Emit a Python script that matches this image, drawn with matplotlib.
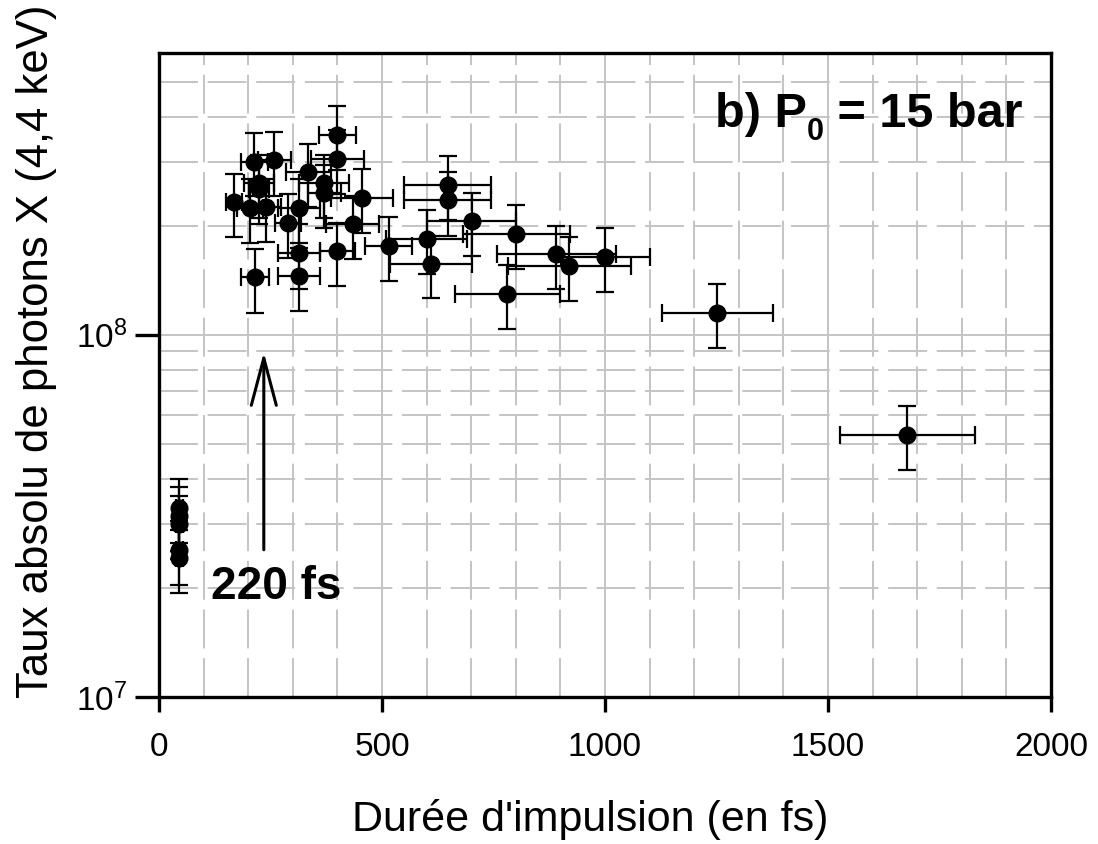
import matplotlib
matplotlib.use("Agg")
import matplotlib.pyplot as plt
from matplotlib.ticker import MultipleLocator, LogLocator

plt.rcParams['font.family'] = ['Liberation Sans', 'DejaVu Sans']
plt.rcParams['mathtext.fontset'] = 'custom'
plt.rcParams['mathtext.rm'] = 'Liberation Sans'
plt.rcParams['mathtext.bf'] = 'Liberation Sans:bold'

# pulse duration (fs) and absolute X-ray photon yield, with error bars
duree = [45, 45, 45, 45, 45,
         168, 204, 214, 258, 224, 224, 239, 215, 290, 314,
         335, 314, 314, 370, 370, 400, 400, 400, 434, 455,
         515, 600, 610, 647, 647, 701, 801, 781, 891, 920,
         1001, 1252, 1678]
taux = [3.33e7, 3.16e7, 3.00e7, 2.55e7, 2.42e7,
        2.32e8, 2.24e8, 3.01e8, 3.03e8, 2.62e8, 2.52e8, 2.25e8, 1.44e8, 2.04e8, 2.24e8,
        2.81e8, 1.68e8, 1.45e8, 2.62e8, 2.46e8, 3.57e8, 3.06e8, 1.70e8, 2.02e8, 2.39e8,
        1.76e8, 1.84e8, 1.57e8, 2.60e8, 2.35e8, 2.06e8, 1.90e8, 1.30e8, 1.67e8, 1.55e8,
        1.64e8, 1.15e8, 5.29e7]
duree_err = [8, 8, 8, 8, 8,
             17, 30, 30, 37, 33, 22, 35, 32, 29, 47,
             50, 47, 47, 55, 37, 41, 60, 40, 60, 69,
             53, 90, 91, 97, 97, 100, 120, 117, 134, 138,
             100, 125, 152]
taux_err = [6.7e6, 6.3e6, 6.0e6, 5.1e6, 4.8e6,
            4.6e7, 4.5e7, 6.0e7, 6.1e7, 5.2e7, 5.0e7, 4.5e7, 2.9e7, 4.1e7, 4.5e7,
            5.6e7, 3.4e7, 2.9e7, 5.2e7, 4.9e7, 7.1e7, 6.1e7, 3.4e7, 4.0e7, 4.8e7,
            3.5e7, 3.7e7, 3.1e7, 5.2e7, 4.7e7, 4.1e7, 3.8e7, 2.6e7, 3.3e7, 3.1e7,
            3.3e7, 2.3e7, 1.06e7]

W, H = 1098, 844
fig = plt.figure(figsize=(W / 100, H / 100), dpi=100)
ax = fig.add_axes([159 / W, 1 - 697 / H, 892 / W, 644 / H])

ax.set_yscale('log')
ax.set_xlim(0, 2000)
ax.set_ylim(1e7, 6e8)

ax.xaxis.set_major_locator(MultipleLocator(500))
ax.xaxis.set_minor_locator(MultipleLocator(100))
ax.yaxis.set_major_locator(LogLocator(base=10))
ax.yaxis.set_minor_locator(LogLocator(base=10, subs=range(2, 10)))

ax.grid(which='major', color='#c4c4c4', lw=1.4, ls='-')
ax.grid(which='minor', color='#c4c4c4', lw=1.4, ls=(0, (20, 5)))
ax.set_axisbelow(True)

ax.errorbar(duree, taux, xerr=duree_err, yerr=taux_err, fmt='o', color='black',
            ms=12, elinewidth=1.6, capsize=6.5, capthick=1.6, zorder=3)

for s in ax.spines.values():
    s.set_linewidth(2.4)
ax.tick_params(axis='x', which='major', direction='out', length=11, width=2.4,
               labelsize=24, pad=14)
ax.tick_params(axis='y', which='major', direction='out', length=17, width=2.4,
               labelsize=24, pad=6)
ax.tick_params(which='minor', length=0)

fig.text(590 / W, 1 - 831 / H, "Durée d'impulsion (en fs)", fontsize=31,
         ha='center', va='baseline')
fig.text(48 / W, 1 - 351 / H, "Taux absolu de photons X (4,4 keV)", fontsize=31.5,
         rotation=90, rotation_mode='anchor', ha='center', va='baseline')

ax.annotate('', xy=(235, 8.96e7), xytext=(235, 2.55e7),
            arrowprops=dict(arrowstyle='->,head_length=1.7,head_width=0.45',
                            lw=2.2, color='black', mutation_scale=20,
                            shrinkA=0, shrinkB=0))
ax.text(116, 1.87e7, '220 fs', fontsize=33, fontweight='bold', va='baseline')

# "b) P0 = 15 bar" with a lowered subscript, built right to left
fig.canvas.draw()
rend = fig.canvas.get_renderer()
t3 = fig.text(1022 / W, 1 - 126.7 / H, ' = 15 bar', fontsize=35, fontweight='bold',
              ha='right', va='baseline')
x3 = t3.get_window_extent(rend).x0
t2 = fig.text(x3 / W, 1 - 140 / H, '0', fontsize=22, fontweight='bold',
              ha='right', va='baseline')
x2 = t2.get_window_extent(rend).x0
fig.text(x2 / W, 1 - 126.7 / H, 'b) P', fontsize=35, fontweight='bold',
         ha='right', va='baseline')

fig.savefig('out.png', dpi=100)
